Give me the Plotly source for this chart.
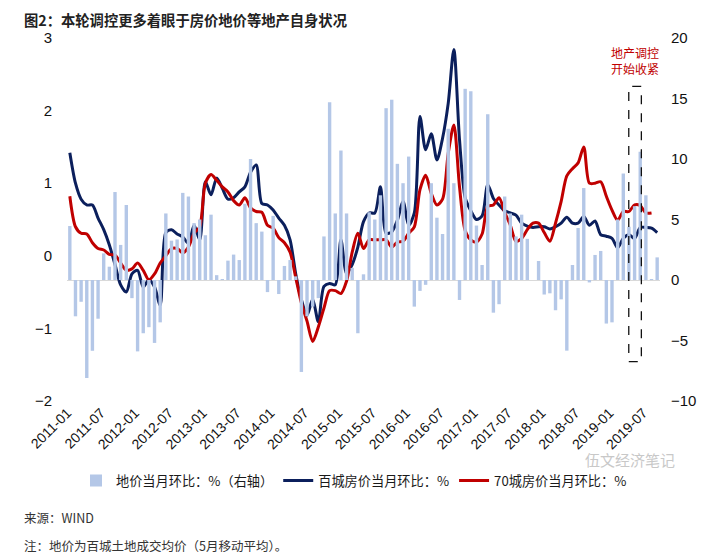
import pandas as pd
import plotly.graph_objects as go

months = pd.date_range("2011-01-01", "2019-09-01", freq="MS").strftime("%Y-%m").tolist()

# 地价当月环比 (%) right axis
land = [4.46, -3.0, -1.8, -8.1, -5.85, -3.2, 2.2, 1.1, 7.27, 2.9,
        6.2, -1.5, -5.9, -4.4, -3.9, -5.2, -3.5, 5.5, 3.25, 3.35,
        7.2, 6.9, 4.7, 5.0, 3.7, 5.4, 0.4, 0.05, 1.6, 2.1,
        1.65, 6.3, 10.0, 4.7, 4.0, -1.0, 5.3, -1.16, 1.16, 1.65,
        0.3, -7.6, -3.0, -2.2, -1.5, 3.6, 14.7, 5.5, 10.7, 5.5,
        1.0, -4.4, 0.47, 5.6, 5.0, 7.0, 14.2, 14.9, 9.6, 8.0,
        10.2, -2.2, -0.9, -0.4, 8.0, 5.15, 3.8, 12.5, 8.0, -1.65,
        15.8, 15.6, 4.5, 1.24, 13.7, -2.7, -2.0, 6.9, 5.5, 3.6,
        5.4, 3.4, 0.0, 1.57, -1.2, -1.1, -2.5, -1.6, -5.84, 1.24,
        4.3, 7.6, -0.2, 2.07, 2.4, -3.6, -3.5, 5.0, 8.8, 4.4,
        6.1, 10.6, 7.0, 0.05, 1.87]

# 百城房价当月环比 (%)
city100 = [1.42, 1.0, 0.78, 0.70, 0.70, 0.52, 0.36, 0.15, -0.12, -0.40,
           -0.50, -0.25, -0.20, -0.43, -0.33, -0.43, -0.68, 0.32, 0.36, 0.30,
           0.26, 0.17, 0.42, 0.22, 1.02, 0.84, 1.07, 0.93, 0.78, 0.80,
           0.88, 0.95, 1.15, 1.25, 0.72, 0.70, 0.63, 0.52, 0.42, 0.22,
           -0.25, -0.60, -0.82, -0.60, -0.91, -0.42, -0.38, -0.40, 0.22, -0.24,
           -0.12, 0.12, 0.47, 0.59, 0.59, 0.95, 0.31, 0.33, 0.49, 0.75,
           0.42, 0.59, 1.92, 1.46, 1.68, 1.32, 1.62, 2.10, 2.84, 1.60,
           0.80, 0.62, 0.50, 0.55, 0.98, 0.79, 0.70, 0.62, 0.59, 0.56,
           0.45, 0.41, 0.39, 0.40, 0.40, 0.37, 0.40, 0.45, 0.53, 0.45,
           0.45, 0.54, 0.42, 0.48, 0.29, 0.27, 0.24, 0.11, 0.24, 0.29,
           0.24, 0.39, 0.39, 0.38, 0.32]

# 70城房价当月环比 (%)
city70 = [0.82, 0.40, 0.31, 0.30, 0.18, 0.10, 0.08, 0.02, 0.01, -0.10,
          -0.20, -0.18, -0.10, -0.20, -0.33, -0.25, -0.10, 0.0, 0.10, 0.10,
          0.04, 0.12, 0.31, 0.40, 1.00, 1.12, 1.04, 0.95, 0.88, 0.76,
          0.70, 0.80, 0.66, 0.61, 0.60, 0.42, 0.38, 0.25, 0.18, 0.05,
          -0.30, -0.65, -0.90, -1.18, -0.98, -0.72, -0.48, -0.48, -0.52, -0.35,
          0.05, 0.31, 0.10, 0.22, 0.22, 0.22, 0.22, 0.12, 0.19, 0.20,
          0.31, 0.40, 0.91, 1.11, 0.86, 0.70, 0.78, 1.41, 1.80, 0.95,
          0.35, 0.22, 0.19, 0.30, 0.68, 0.70, 0.80, 0.60, 0.42, 0.20,
          0.24, 0.36, 0.45, 0.45, 0.32, 0.20, 0.45, 0.75, 1.10, 1.20,
          1.28, 1.50, 1.00, 1.00, 1.02, 0.82, 0.63, 0.49, 0.61, 0.61,
          0.70, 0.69, 0.59, 0.59]

tick_labels = months[::6]

idx = list(range(len(months)))

FONT = "Noto Sans CJK SC, Liberation Sans, Arial, sans-serif"
NUMFONT = "Liberation Sans, Arial, sans-serif"

# page body has an 8px margin, so the figure is 8px smaller than the window
W, H = 714, 546
L, R, T, B = 59, 62, 30, 153

fig = go.Figure()
fig.add_trace(go.Bar(x=idx, y=land, name="地价当月环比：%（右轴）",
                     marker=dict(color="#B4C7E7", line=dict(width=0)),
                     yaxis="y2"))
fig.add_trace(go.Scatter(x=idx[:len(city100)], y=city100, name="百城房价当月环比：%",
                         mode="lines", line=dict(color="#0B1F5C", width=3, shape="spline", smoothing=0.8)))
fig.add_trace(go.Scatter(x=idx[:len(city70)], y=city70, name="70城房价当月环比：%",
                         mode="lines", line=dict(color="#C00000", width=3, shape="spline", smoothing=0.8)))

tickpos = [i - 0.45 for i in idx[::6]]

def px_x(xref_px):
    return (xref_px - 67) / 593

def px_y(yref_px):
    return (401 - yref_px) / 363

fig.update_layout(
    width=W, height=H,
    margin=dict(l=L, r=R, t=T, b=B, autoexpand=False),
    paper_bgcolor="white", plot_bgcolor="white",
    bargap=0.4,
    showlegend=True,
    legend=dict(orientation="h", x=px_x(76), xanchor="left", y=px_y(481), yanchor="middle",
                font=dict(family=FONT, size=13.2, color="#1a1a1a"),
                itemwidth=30, tracegroupgap=0, bgcolor="rgba(0,0,0,0)"),
    xaxis=dict(range=[-0.5, len(months) - 0.5], tickmode="array",
               tickvals=tickpos, ticktext=tick_labels, tickangle=-45,
               showgrid=False, zeroline=False, showline=False, ticks="",
               tickfont=dict(family=NUMFONT, size=14, color="#111111")),
    yaxis=dict(range=[-2, 3], tickmode="array", tickvals=[-2, -1, 0, 1, 2, 3],
               showgrid=False, zeroline=False, showline=False, ticks="",
               ticklabelstandoff=14,
               tickfont=dict(family=NUMFONT, size=15, color="#111111")),
    yaxis2=dict(range=[-10, 20], overlaying="y", side="right", tickmode="array",
                tickvals=[-10, -5, 0, 5, 10, 15, 20],
                showgrid=False, zeroline=True, zerolinecolor="#D9D9D9", zerolinewidth=1,
                showline=False, ticks="", ticklabelstandoff=10,
                tickfont=dict(family=NUMFONT, size=15, color="#111111")),
)

# chart title
fig.add_annotation(text="<b>图2：本轮调控更多着眼于房价地价等地产自身状况</b>",
                   xref="paper", yref="paper", x=px_x(22), y=px_y(19),
                   xanchor="left", yanchor="middle", showarrow=False,
                   font=dict(family=FONT, size=14.3, color="#222222"))

# dashed box marking the policy tightening period
fig.add_shape(type="rect", xref="x", yref="y2", x0=98.97, x1=101.2, y0=-6.75, y1=16,
              line=dict(color="#111111", width=1.3, dash="dash"), fillcolor="rgba(0,0,0,0)")

fig.add_annotation(text="地产调控<br>开始收紧", xref="x", yref="y2", x=100, y=18.1,
                   showarrow=False, yanchor="middle",
                   font=dict(family=FONT, size=12, color="#C00000"))

fig.add_annotation(text="伍文经济笔记", xref="paper", yref="paper",
                   x=px_x(630), y=px_y(459), xanchor="center", yanchor="middle",
                   showarrow=False, font=dict(family=FONT, size=15, color="#C8C8C8"))

fig.add_annotation(text="来源：WIND", xref="paper", yref="paper",
                   x=px_x(22), y=px_y(517), xanchor="left", yanchor="middle",
                   showarrow=False, font=dict(family=FONT, size=12.5, color="#333333"))
fig.add_annotation(text="注：地价为百城土地成交均价（5月移动平均）。", xref="paper", yref="paper",
                   x=px_x(22), y=px_y(545), xanchor="left", yanchor="middle",
                   showarrow=False, font=dict(family=FONT, size=12.5, color="#333333"))

fig.write_html("out.html")
